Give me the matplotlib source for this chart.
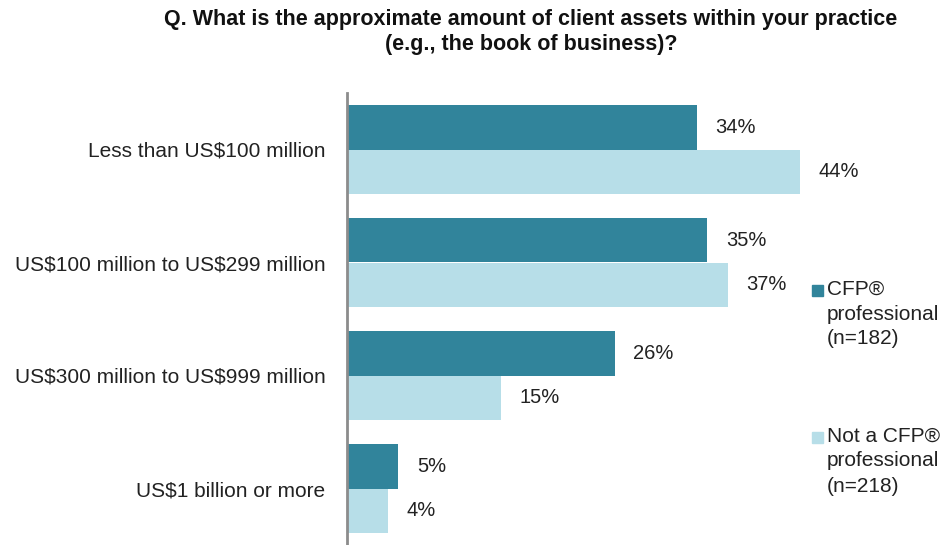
import matplotlib
matplotlib.use("Agg")
import matplotlib.pyplot as plt
import numpy as np
from matplotlib.patches import Rectangle

plt.rcParams['font.family'] = ['Liberation Sans', 'DejaVu Sans']
plt.rcParams['text.parse_math'] = False

categories = ["Less than US$100 million",
              "US$100 million to US$299 million",
              "US$300 million to US$999 million",
              "US$1 billion or more"]
cfp = [34, 35, 26, 5]
non_cfp = [44, 37, 15, 4]
series_labels = ["CFP®\nprofessional\n(n=182)", "Not a CFP®\nprofessional\n(n=218)"]
title = ("Q. What is the approximate amount of client assets within your practice\n"
         "(e.g., the book of business)?")

dark = "#31849B"
light = "#B7DEE8"
txt = "#222222"
fs = 15
fs_val = 14.5

W, H = 945, 545
fig = plt.figure(figsize=(W / 100, H / 100), dpi=100)

# axes placed in pixel terms: left edge at the vertical axis line
ax_left, ax_right, ax_top, ax_bottom = 347, 805, 93, 545
ax = fig.add_axes([ax_left / W, 1 - ax_bottom / H,
                   (ax_right - ax_left) / W, (ax_bottom - ax_top) / H])

n = len(categories)
y = np.arange(n)
bh = 0.398
ax.barh(y - bh / 2, cfp, height=bh, color=dark, edgecolor='none')
ax.barh(y + bh / 2, non_cfp, height=bh, color=light, edgecolor='none')

xmax = 44 * (ax_right - ax_left - 1) / 452
ax.set_xlim(0, xmax)
ax.set_ylim(n - 0.5, -0.5)

for i in range(n):
    ax.text(cfp[i] + 1.8, y[i] - bh / 2, f"{cfp[i]}%", va='center', ha='left',
            fontsize=fs_val, color=txt)
    ax.text(non_cfp[i] + 1.8, y[i] + bh / 2, f"{non_cfp[i]}%", va='center', ha='left',
            fontsize=fs_val, color=txt)

ax.set_yticks(y)
ax.set_yticklabels(categories, fontsize=fs, color=txt)
ax.tick_params(axis='y', length=0, pad=15.5)
ax.set_xticks([])
for s in ['top', 'right', 'bottom']:
    ax.spines[s].set_visible(False)
ax.spines['left'].set_color('#8C8C8C')
ax.spines['left'].set_linewidth(2)

fig.text(531 / W, 1 - 9 / H, title, ha='center', va='top', fontsize=15.5,
         fontweight='bold', linespacing=1.22, color='#111111')

# legend drawn as squares with wrapped labels, centred on the middle line
for lab, col, ymid in [(series_labels[0], dark, 290), (series_labels[1], light, 437)]:
    fig.patches.append(Rectangle((812 / W, 1 - (ymid + 6) / H), 11 / W, 11 / H,
                                 transform=fig.transFigure, color=col))
    fig.text(827 / W, 1 - (ymid + 24) / H, lab, ha='left', va='center', fontsize=fs,
             linespacing=1.4, color=txt)

fig.savefig("out.png", dpi=100)
